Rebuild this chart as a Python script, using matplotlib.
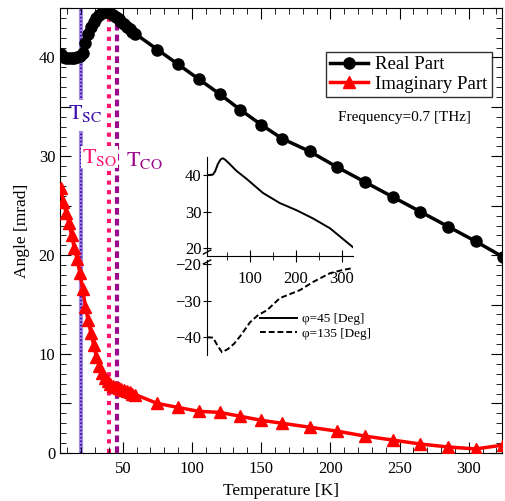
import matplotlib
matplotlib.use("Agg")
import matplotlib.pyplot as plt
from matplotlib.ticker import MultipleLocator, FuncFormatter

plt.rcParams["font.family"] = ["Liberation Serif", "DejaVu Serif"]
plt.rcParams["mathtext.fontset"] = "stix"

# main data: temperature [K] and angle [mrad]
temp = [5, 7, 9, 11, 13, 15, 17, 19, 21, 23, 25, 27, 29, 31, 33, 35, 37, 39,
        41, 43, 45, 47, 49, 51, 53, 55, 57, 59,
        75, 90, 105, 120, 135, 150, 165, 185, 205, 225, 245, 265, 285, 305, 325]
real_part = [40.3, 40.0, 39.9, 39.9, 39.9, 39.9, 40.0, 40.1, 40.5, 41.5, 42.4, 43.1,
             43.6, 44.0, 44.3, 44.5, 44.6, 44.6, 44.5, 44.3, 44.1, 43.9, 43.6, 43.4,
             43.1, 42.9, 42.6, 42.4,
             40.8, 39.3, 37.8, 36.3, 34.7, 33.2, 31.8, 30.5, 28.9, 27.4, 25.9, 24.4,
             22.9, 21.4, 19.8]
imag_part = [26.8, 25.4, 24.3, 23.3, 22.0, 20.7, 19.6, 18.2, 16.6, 14.8, 13.4, 12.1,
             10.9, 9.7, 8.8, 8.1, 7.6, 7.3, 7.0, 6.8, 6.7, 6.6, 6.5, 6.4, 6.3, 6.2,
             6.0, 5.9,
             5.0, 4.6, 4.2, 4.1, 3.7, 3.3, 3.0, 2.6, 2.2, 1.7, 1.3, 0.9, 0.6, 0.4, 0.8]

# transition temperatures
t_sc = 19.5
t_so = 40.0
t_co = 45.8

# inset data
phi45_temp = [6.5, 19, 24, 30, 36, 41, 46, 56, 70, 93, 128, 165, 180, 202, 237, 274, 324]
phi45 = [40.0, 40.1, 41.0, 43.0, 44.3, 44.6, 44.2, 43.0, 41.2, 38.9, 35.1, 32.3,
         31.5, 30.3, 28.1, 25.4, 20.2]
phi135_temp = [6.5, 19.6, 28, 39, 52, 65, 78, 100, 117, 137, 165, 187, 209, 237,
               274, 302, 324]
phi135 = [-40.0, -40.1, -42.0, -44.1, -43.2, -41.8, -39.8, -35.9, -34.0, -32.6,
          -29.3, -28.2, -27.1, -24.9, -22.5, -21.6, -21.1]

fig = plt.figure(figsize=(5.05, 5.01), dpi=100)
ax = fig.add_axes([0.119, 0.096, 0.875, 0.888])

# transition lines
ax.plot([t_sc, t_sc], [0, 32.4], color="#a58be0", lw=3, zorder=1)
ax.plot([t_sc, t_sc], [35.9, 45], color="#a58be0", lw=3, zorder=1)
ax.plot([t_sc, t_sc], [0, 32.4], color="#3b0fb0", lw=1.3, ls=(0, (1, 1)), zorder=1)
ax.plot([t_sc, t_sc], [35.9, 45], color="#3b0fb0", lw=1.3, ls=(0, (1, 1)), zorder=1)
ax.axvline(t_so, color="#ff1470", lw=3, ls=(0, (1, 1.3)), zorder=1)
ax.axvline(t_co, color="#9b0a8c", lw=3, ls=(0, (1.6, 1)), zorder=1)

ax.plot(temp, real_part, color="black", lw=2.5, marker="o", ms=8,
        label="Real Part", zorder=3)
ax.plot(temp, imag_part, color="red", lw=2.5, marker="^", ms=8,
        label="Imaginary Part", zorder=3)

ax.text(10.5, 34.3, r"$\mathrm{T_{SC}}$", color="#3b0fb0", fontsize=16,
        va="center", ha="left", zorder=2)
ax.text(20.3, 29.9, r"$\mathrm{T_{SO}}$", color="#ff1470", fontsize=16,
        va="center", ha="left", zorder=2,
        bbox=dict(facecolor="white", edgecolor="none", pad=0.5))
ax.text(52, 29.6, r"$\mathrm{T_{CO}}$", color="#9b0a8c", fontsize=16,
        va="center", ha="left", zorder=2)

ax.set_xlim(4.7, 324)
ax.set_ylim(0, 45)
ax.xaxis.set_major_locator(MultipleLocator(50))
ax.xaxis.set_minor_locator(MultipleLocator(10))
ax.yaxis.set_major_locator(MultipleLocator(5))
ax.yaxis.set_minor_locator(MultipleLocator(1))
ax.yaxis.set_major_formatter(
    FuncFormatter(lambda v, p: f"{v:.0f}" if v % 10 == 0 else ""))
ax.tick_params(which="both", direction="in", top=True, right=True, labelsize=12)
ax.tick_params(which="major", length=8)
ax.tick_params(which="minor", length=4)
ax.tick_params(axis="x", pad=6)
ax.set_xlabel("Temperature [K]", fontsize=12.5, labelpad=4)
ax.set_ylabel("Angle [mrad]", fontsize=12.5, labelpad=6)

leg = ax.legend(loc="upper right", bbox_to_anchor=(0.975, 0.897),
                bbox_transform=fig.transFigure, fontsize=13.5, handlelength=2.0,
                fancybox=False, edgecolor="black", borderpad=0.25,
                labelspacing=0.12, handletextpad=0.4, borderaxespad=0)
leg.get_frame().set_linewidth(1)

fig.text(0.80, 0.766, "Frequency=0.7 [THz]", fontsize=11, ha="center", va="center")

# inset: two stacked panels with broken y axis
ins_top = fig.add_axes([0.410, 0.489, 0.289, 0.198], facecolor="none")
ins_bot = fig.add_axes([0.410, 0.291, 0.289, 0.190], facecolor="none")

ins_top.plot(phi45_temp, phi45, color="black", lw=1.4, label="φ=45 [Deg]")
ins_bot.plot(phi135_temp, phi135, color="black", lw=1.4, ls=(0, (3, 1.5)),
             label="φ=135 [Deg]")

ins_top.set_xlim(6.5, 324)
ins_top.set_ylim(17.8, 45)
ins_bot.set_xlim(6.5, 324)
ins_bot.set_ylim(-44.9, -18.9)

for a in (ins_top, ins_bot):
    a.spines["top"].set_visible(False)
    a.spines["right"].set_visible(False)
    a.tick_params(which="both", direction="inout", labelsize=12, length=6)
    a.tick_params(axis="y", pad=1)

ins_bot.spines["bottom"].set_visible(False)
ins_bot.set_xticks([])
ins_top.set_yticks([20, 30, 40])
ins_bot.set_yticks([-20, -30, -40])
ins_top.set_xticks([100, 200, 300])
ins_top.set_xticks([50, 150, 250], minor=True)
ins_top.tick_params(axis="x", which="major", length=8, pad=7)
ins_top.tick_params(axis="x", which="minor", length=6)

# break marks
d = 0.025
ins_top.plot([-d, d], [0.02, 0.06], transform=ins_top.transAxes,
             color="black", lw=1, clip_on=False)
ins_bot.plot([-d, d], [0.96, 1.0], transform=ins_bot.transAxes,
             color="black", lw=1, clip_on=False)

h1, l1 = ins_top.get_legend_handles_labels()
h2, l2 = ins_bot.get_legend_handles_labels()
ins_bot.legend(h1 + h2, l1 + l2, loc="upper left", bbox_to_anchor=(0.514, 0.375),
               bbox_transform=fig.transFigure, frameon=False, fontsize=9.5,
               handlelength=2.8, labelspacing=0.15, handletextpad=0.4,
               borderpad=0, borderaxespad=0)

fig.savefig("out.png", dpi=100)
